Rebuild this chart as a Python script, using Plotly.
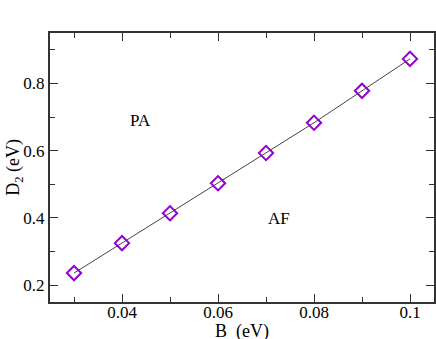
import plotly.graph_objects as go

B = [0.03, 0.04, 0.05, 0.06, 0.07, 0.08, 0.09, 0.10]
D2 = [0.236, 0.325, 0.414, 0.503, 0.593, 0.683, 0.778, 0.873]
labels = ["PA", "AF"]
label_x = [0.0438, 0.0728]
label_y = [0.69, 0.397]
x_title = "B  (eV)"
y_title = "D<sub>2</sub> (eV)"

SERIF = "Liberation Serif, Times New Roman, serif"

fig = go.Figure()
fig.add_trace(go.Scatter(
    x=B, y=D2, mode="lines+markers",
    line=dict(color="#444444", width=1),
    marker=dict(symbol="diamond-open", size=11, color="#9400D3",
                line=dict(color="#9400D3", width=2)),
    showlegend=False))

for t, xx, yy in zip(labels, label_x, label_y):
    fig.add_annotation(x=xx, y=yy, text=t, showarrow=False,
                       font=dict(family=SERIF, size=17, color="black"))

# axis titles as paper-anchored annotations
fig.add_annotation(xref="paper", yref="paper", x=0.5, y=-0.108, yanchor="middle",
                   text=x_title, showarrow=False,
                   font=dict(family=SERIF, size=18, color="black"))
fig.add_annotation(xref="paper", yref="paper", x=-0.093, y=0.5, xanchor="center",
                   text=y_title, textangle=-90, showarrow=False,
                   font=dict(family=SERIF, size=18, color="black"))

axis_common = dict(
    showgrid=False, zeroline=False, showline=True, linecolor="#333333", linewidth=2,
    mirror="ticks", ticks="inside", ticklen=8, tickwidth=1, tickcolor="#333333",
    tickfont=dict(family=SERIF, size=17, color="black"),
    automargin=False,
)

fig.update_xaxes(range=[0.025, 0.105], tickvals=[0.04, 0.06, 0.08, 0.1],
                 ticktext=["0.04", "0.06", "0.08", "0.1"],
                 minor=dict(dtick=0.01, tick0=0.0, ticks="inside", ticklen=5, tickcolor="#333333"),
                 ticklabelstandoff=-6,
                 **axis_common)
fig.update_yaxes(range=[0.15, 0.95], tickvals=[0.2, 0.4, 0.6, 0.8],
                 ticktext=["0.2", "0.4", "0.6", "0.8"],
                 minor=dict(dtick=0.1, tick0=0.0, ticks="inside", ticklen=5, tickcolor="#333333"),
                 ticklabelstandoff=0,
                 **axis_common)

fig.update_layout(width=436, height=339, margin=dict(l=50, r=2, t=33, b=37),
                  font=dict(family=SERIF),
                  plot_bgcolor="white", paper_bgcolor="white")
fig.write_html("out.html", config={"displayModeBar": False},
               post_script="document.body.style.margin='0';document.body.style.overflow='hidden';")
